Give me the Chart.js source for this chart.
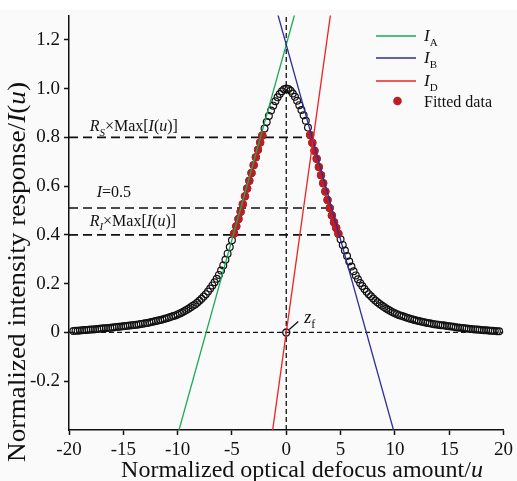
<!DOCTYPE html>
<html>
<head>
<meta charset="utf-8">
<script src="https://cdn.jsdelivr.net/npm/chart.js@4.4.1/dist/chart.umd.min.js"></script>
<style>
  html, body { margin: 0; padding: 0; background: #fff; }
  canvas { display: block; }
</style>
</head>
<body>
<canvas id="chart" width="517" height="481"></canvas>
<script>
const uLeft = [-19.6, -19.4, -19.2, -19.0, -18.8, -18.6, -18.4, -18.2, -18.0, -17.8,
  -17.6, -17.4, -17.2, -17.0, -16.8, -16.6, -16.4, -16.2, -16.0, -15.8,
  -15.6, -15.4, -15.2, -15.0, -14.8, -14.6, -14.4, -14.2, -14.0, -13.8,
  -13.6, -13.4, -13.2, -13.0, -12.8, -12.6, -12.4, -12.2, -12.0, -11.8,
  -11.6, -11.4, -11.2, -11.0, -10.8, -10.6, -10.4, -10.2, -10.0, -9.8,
  -9.6, -9.4, -9.2, -9.0, -8.8, -8.6, -8.4, -8.2, -8.0, -7.8,
  -7.6, -7.4, -7.2, -7.0, -6.8, -6.6, -6.4, -6.2, -6.0, -5.8,
  -5.6, -5.4, -5.2, -5.0, -4.8, -4.6, -4.4, -4.2, -4.0, -3.8,
  -3.6, -3.4, -3.2, -3.0, -2.8, -2.6, -2.4, -2.2, -2.0, -1.8,
  -1.6, -1.4, -1.2, -1.0, -0.8, -0.6, -0.4, -0.2];
const iLeft = [0.006, 0.007, 0.007, 0.008, 0.009, 0.010, 0.010, 0.011, 0.012, 0.012,
  0.013, 0.014, 0.015, 0.016, 0.017, 0.017, 0.018, 0.019, 0.020, 0.021,
  0.022, 0.023, 0.024, 0.025, 0.026, 0.027, 0.028, 0.030, 0.031, 0.032,
  0.033, 0.035, 0.036, 0.038, 0.039, 0.041, 0.043, 0.045, 0.047, 0.049,
  0.051, 0.053, 0.056, 0.058, 0.061, 0.064, 0.067, 0.070, 0.074, 0.078,
  0.082, 0.087, 0.092, 0.097, 0.103, 0.109, 0.115, 0.122, 0.130, 0.138,
  0.147, 0.157, 0.168, 0.180, 0.193, 0.206, 0.220, 0.236, 0.254, 0.275,
  0.298, 0.323, 0.350, 0.378, 0.406, 0.435, 0.465, 0.495, 0.526, 0.558,
  0.590, 0.622, 0.654, 0.686, 0.718, 0.749, 0.779, 0.808, 0.836, 0.863,
  0.888, 0.910, 0.930, 0.948, 0.964, 0.978, 0.989, 0.997];
const uRight = [0.0, 0.2, 0.4, 0.6, 0.8, 1.0, 1.2, 1.4, 1.6, 1.8,
  2.0, 2.2, 2.4, 2.6, 2.8, 3.0, 3.2, 3.4, 3.6, 3.8,
  4.0, 4.2, 4.4, 4.6, 4.8, 5.0, 5.2, 5.4, 5.6, 5.8,
  6.0, 6.2, 6.4, 6.6, 6.8, 7.0, 7.2, 7.4, 7.6, 7.8,
  8.0, 8.2, 8.4, 8.6, 8.8, 9.0, 9.2, 9.4, 9.6, 9.8,
  10.0, 10.2, 10.4, 10.6, 10.8, 11.0, 11.2, 11.4, 11.6, 11.8,
  12.0, 12.2, 12.4, 12.6, 12.8, 13.0, 13.2, 13.4, 13.6, 13.8,
  14.0, 14.2, 14.4, 14.6, 14.8, 15.0, 15.2, 15.4, 15.6, 15.8,
  16.0, 16.2, 16.4, 16.6, 16.8, 17.0, 17.2, 17.4, 17.6, 17.8,
  18.0, 18.2, 18.4, 18.6, 18.8, 19.0, 19.2, 19.4, 19.6];
const iRight = [1.000, 0.998, 0.991, 0.980, 0.966, 0.950, 0.932, 0.912, 0.891, 0.868,
  0.840, 0.810, 0.778, 0.745, 0.712, 0.678, 0.645, 0.612, 0.578, 0.543,
  0.510, 0.480, 0.452, 0.428, 0.405, 0.382, 0.359, 0.336, 0.313, 0.291,
  0.270, 0.251, 0.234, 0.218, 0.203, 0.190, 0.178, 0.167, 0.157, 0.148,
  0.139, 0.131, 0.124, 0.117, 0.110, 0.104, 0.098, 0.093, 0.088, 0.083,
  0.079, 0.075, 0.071, 0.068, 0.065, 0.062, 0.059, 0.056, 0.054, 0.051,
  0.049, 0.047, 0.045, 0.043, 0.041, 0.039, 0.038, 0.036, 0.034, 0.033,
  0.032, 0.030, 0.029, 0.028, 0.026, 0.025, 0.024, 0.023, 0.021, 0.020,
  0.019, 0.018, 0.017, 0.016, 0.015, 0.014, 0.013, 0.012, 0.012, 0.011,
  0.010, 0.009, 0.009, 0.008, 0.007, 0.007, 0.006, 0.005, 0.005];

// fitted range of the data (between R_I and R_S levels)
const fitLow = 0.39;
const fitHigh = 0.81;

// fitted lines, two end points each (u, I)
const lineAu = [-11, 1];
const lineAi = [-0.58, 1.34];
const lineBu = [-1, 11];
const lineBi = [1.34, -0.58];
const lineDu = [-1.5, 4.5];
const lineDi = [-0.48, 1.44];

// reference levels: R_S x Max, I = 0.5, R_I x Max and where each dashed line stops
const refLevels = [0.8, 0.51, 0.4];
const refEnds = [2.2, 3.95, 4.9];
const zf = [0, 0];

const xTicks = [-20, -15, -10, -5, 0, 5, 10, 15, 20];
const yTicks = [-0.2, 0, 0.2, 0.4, 0.6, 0.8, 1.0, 1.2];

const SERIF = '"Liberation Serif", "Times New Roman", serif';
const GREEN = 'rgb(25, 170, 85)';
const BLUE = 'rgb(45, 45, 150)';
const RED = 'rgb(235, 35, 35)';
const FIT = 'rgb(190, 30, 35)';

const measured = uLeft.map((u, i) => ({ x: u, y: iLeft[i] }))
  .concat(uRight.map((u, i) => ({ x: u, y: iRight[i] })));
const fitted = measured.filter(p => p.y >= fitLow && p.y <= fitHigh);
const pts = (us, is) => us.map((u, i) => ({ x: u, y: is[i] }));

const dashed = refLevels.map((lv, i) => ({
  data: [{ x: -20, y: lv }, { x: refEnds[i], y: lv }],
  showLine: true, borderColor: '#111', borderWidth: 1.6, borderDash: [9, 5],
  pointRadius: 0, order: 9
}));

// draws text made of pieces: [text, italic, subscript]
function fontFor(p, size) {
  const s = p[2] ? Math.round(size * 0.66) : size;
  return (p[1] ? 'italic ' : '') + s + 'px ' + SERIF;
}
function richWidth(ctx, parts, size) {
  return parts.reduce((w, p) => { ctx.font = fontFor(p, size); return w + ctx.measureText(p[0]).width; }, 0);
}
function richText(ctx, x, y, parts, size, align) {
  const total = richWidth(ctx, parts, size);
  let cx = align === 'center' ? x - total / 2 : x;
  parts.forEach(p => {
    ctx.font = fontFor(p, size);
    ctx.fillText(p[0], cx, y + (p[2] ? size * 0.28 : 0));
    cx += ctx.measureText(p[0]).width;
  });
}

const decorPlugin = {
  id: 'decor',
  beforeDraw(chart) {
    const ctx = chart.ctx;
    ctx.save();
    ctx.fillStyle = '#fafafa';
    ctx.fillRect(0, 10, chart.width, chart.height - 10);
    ctx.restore();
  },
  afterDraw(chart) {
    const ctx = chart.ctx;
    const xs = chart.scales.x, ys = chart.scales.y;
    ctx.save();
    ctx.fillStyle = '#111';
    ctx.textBaseline = 'alphabetic';

    // labels of the reference levels
    const lx = xs.getPixelForValue(-18.1);
    richText(ctx, lx, ys.getPixelForValue(refLevels[0]) - 6,
      [['R', true], ['S', true, true], ['×Max['], ['I', true], ['('], ['u', true], [')]']], 16);
    richText(ctx, lx + 7, ys.getPixelForValue(refLevels[1]) - 11,
      [['I', true], ['=0.5']], 16);
    richText(ctx, lx, ys.getPixelForValue(refLevels[2]) - 9,
      [['R', true], ['I', true, true], ['×Max['], ['I', true], ['('], ['u', true], [')]']], 16);

    // z_f pointer
    const zx = xs.getPixelForValue(zf[0]), zy = ys.getPixelForValue(zf[1]);
    ctx.strokeStyle = '#111';
    ctx.lineWidth = 1.3;
    ctx.beginPath();
    ctx.moveTo(zx + 3, zy - 3);
    ctx.lineTo(zx + 12, zy - 11);
    ctx.stroke();
    richText(ctx, zx + 18, zy - 9, [['z', true], ['f', false, true]], 18);

    // legend
    const legend = [[GREEN, 'A'], [BLUE, 'B'], [RED, 'D']];
    const legY = [36, 58, 81];
    legend.forEach((l, i) => {
      ctx.strokeStyle = l[0];
      ctx.lineWidth = 1.6;
      ctx.beginPath();
      ctx.moveTo(376, legY[i]);
      ctx.lineTo(416, legY[i]);
      ctx.stroke();
      ctx.fillStyle = '#111';
      richText(ctx, 424, legY[i] + 5, [['I', true], [l[1], false, true]], 17);
    });
    ctx.fillStyle = FIT;
    ctx.beginPath();
    ctx.arc(397.5, 101, 4.3, 0, Math.PI * 2);
    ctx.fill();
    ctx.fillStyle = '#111';
    ctx.font = '16px ' + SERIF;
    ctx.fillText('Fitted data', 424, 107);

    // axis titles
    richText(ctx, 302, 477,
      [['Normalized optical defocus amount/'], ['u', true]], 24, 'center');
    const yTitle = [['Normalized intensity response/'], ['I', true], ['('], ['u', true], [')']];
    const stretch = 380 / richWidth(ctx, yTitle, 25);
    ctx.save();
    ctx.translate(25, 272);
    ctx.rotate(-Math.PI / 2);
    ctx.scale(stretch, 1);
    richText(ctx, 0, 0, yTitle, 25, 'center');
    ctx.restore();
    ctx.restore();
  }
};

new Chart(document.getElementById('chart'), {
  type: 'scatter',
  data: {
    datasets: [
      { data: pts(lineDu, lineDi), showLine: true, borderColor: RED, borderWidth: 1.3, pointRadius: 0, order: 1 },
      { data: pts(lineBu, lineBi), showLine: true, borderColor: BLUE, borderWidth: 1.3, pointRadius: 0, order: 2 },
      { data: pts(lineAu, lineAi), showLine: true, borderColor: GREEN, borderWidth: 1.3, pointRadius: 0, order: 3 },
      { data: [{ x: zf[0], y: zf[1] }], pointRadius: 3.5, borderWidth: 1.4, borderColor: '#111',
        backgroundColor: 'rgba(0,0,0,0)', order: 4 },
      { data: fitted, pointRadius: 4.2, borderWidth: 0, backgroundColor: FIT, order: 5 },
      { data: measured, pointRadius: 3.4, borderWidth: 1.2, borderColor: '#111',
        backgroundColor: 'rgba(0,0,0,0)', order: 6 },
      ...dashed,
      { data: [{ x: -20, y: 0 }, { x: 20, y: 0 }], showLine: true, borderColor: '#111', borderWidth: 1.3,
        borderDash: [5, 3], pointRadius: 0, order: 10 },
      { data: [{ x: 0, y: -0.4 }, { x: 0, y: 1.3 }], showLine: true, borderColor: '#111', borderWidth: 1.3,
        borderDash: [5, 3], pointRadius: 0, order: 10 }
    ]
  },
  options: {
    responsive: false,
    animation: false,
    devicePixelRatio: 1,
    layout: { padding: { top: 12, right: 12, left: 0, bottom: 0 } },
    plugins: { legend: { display: false }, tooltip: { enabled: false } },
    scales: {
      x: {
        type: 'linear', min: -20, max: 20,
        afterFit: s => { s.height = 51; },
        afterBuildTicks: s => { s.ticks = xTicks.map(v => ({ value: v })); },
        border: { display: true, color: '#111', width: 1.5 },
        grid: { drawOnChartArea: false, drawTicks: true, tickLength: 5, tickColor: '#111', tickWidth: 1.5 },
        ticks: { color: '#111', padding: 4, maxRotation: 0, font: { family: SERIF, size: 19 },
          callback: v => String(v) }
      },
      y: {
        type: 'linear', min: -0.4, max: 1.3,
        afterFit: s => { s.width = 69; },
        afterBuildTicks: s => { s.ticks = yTicks.map(v => ({ value: v })); },
        border: { display: true, color: '#111', width: 1.5 },
        grid: { drawOnChartArea: false, drawTicks: true, tickLength: 5, tickColor: '#111', tickWidth: 1.5 },
        ticks: { color: '#111', padding: 4, font: { family: SERIF, size: 19 },
          callback: v => (v === 0 ? '0' : v.toFixed(1)) }
      }
    }
  },
  plugins: [decorPlugin]
});
</script>
</body>
</html>
